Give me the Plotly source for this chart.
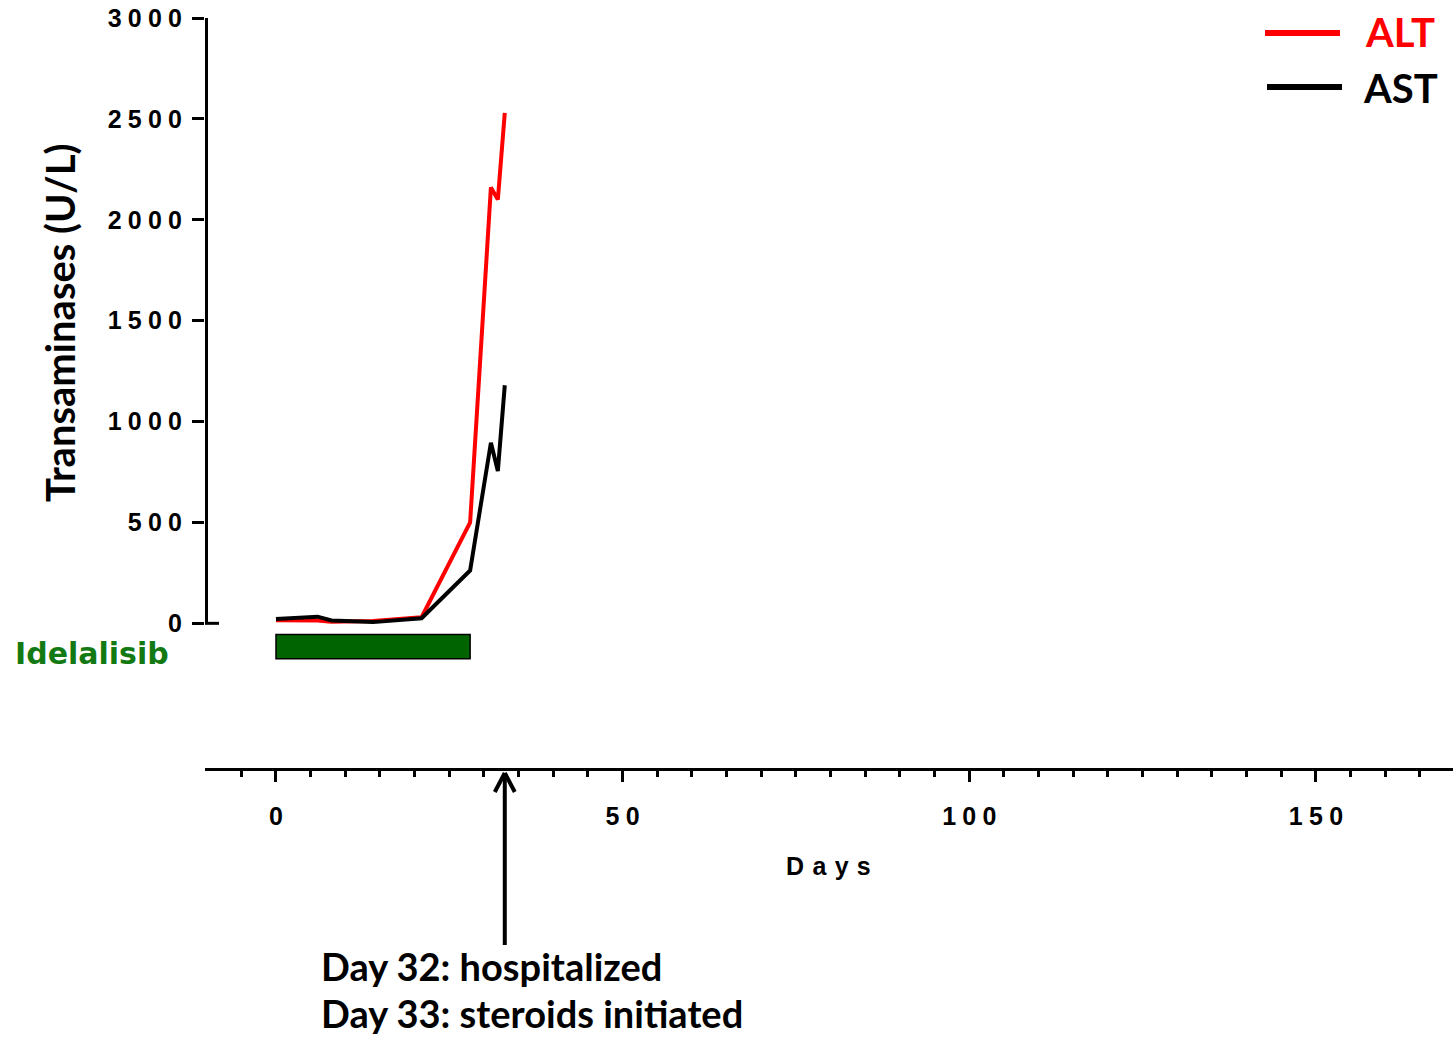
import plotly.graph_objects as go

# Liver enzyme time course (days since idelalisib start)
days = [0, 6, 8, 14, 21, 28, 31, 32, 33]
alt = [15, 14, 8, 12, 30, 500, 2160, 2100, 2530]
ast = [22, 33, 14, 6, 25, 262, 895, 755, 1180]

# Idelalisib treatment period
treat_start, treat_stop = 0, 28
treat_band = [-55, -175]      # vertical extent of the treatment bar (U/L units)
arrow_day = 33                # hospitalisation / steroid start marker

y_ticks = [0, 500, 1000, 1500, 2000, 2500, 3000]
x_ticks = [0, 50, 100, 150]
x_minor = [d for d in range(-5, 170, 5) if d % 50]

SP = "\u2005"


def spaced(s):
    return SP.join(list(str(s)))


y_ticktext = [spaced(v) for v in y_ticks]
x_ticktext = [spaced(v) for v in x_ticks]

# plot area geometry in page pixels
L, R, T, B = 205, 1453, 18, 768
W, H = R - L, B - T


def px(x):
    return (x - L) / W


def py(y):
    return (B - y) / H


day_per_px = 1 / 6.933

fig = go.Figure()
fig.add_trace(go.Scatter(x=days, y=alt, mode="lines", name="ALT",
                         line=dict(color="#ff0000", width=4), showlegend=False))
fig.add_trace(go.Scatter(x=days, y=ast, mode="lines", name="AST",
                         line=dict(color="#000000", width=4), showlegend=False))

shapes = []
# y-axis line (only spans 0..3000)
shapes.append(dict(type="line", xref="paper", yref="y", x0=px(206.5), x1=px(206.5),
                   y0=0, y1=3000, line=dict(color="black", width=3)))
# short stub to the right at zero
shapes.append(dict(type="line", xref="paper", yref="y", x0=px(205), x1=px(219),
                   y0=0, y1=0, line=dict(color="black", width=3)))
# treatment bar
shapes.append(dict(type="rect", xref="x", yref="y", x0=treat_start, x1=treat_stop,
                   y0=treat_band[0], y1=treat_band[1], fillcolor="#006400",
                   line=dict(color="black", width=1.5)))
# arrow: shaft and head
tip = py(773)
shapes.append(dict(type="line", xref="x", yref="paper", x0=arrow_day, x1=arrow_day,
                   y0=py(945), y1=tip, line=dict(color="black", width=4)))
for side in (-1, 1):
    shapes.append(dict(type="line", xref="x", yref="paper",
                       x0=arrow_day, y0=tip,
                       x1=arrow_day + side * 10 * day_per_px, y1=py(792),
                       line=dict(color="black", width=4)))
# legend swatches
shapes.append(dict(type="line", xref="paper", yref="paper", x0=px(1265), x1=px(1340),
                   y0=py(33), y1=py(33), line=dict(color="#ff0000", width=6)))
shapes.append(dict(type="line", xref="paper", yref="paper", x0=px(1267), x1=px(1342),
                   y0=py(87), y1=py(87), line=dict(color="#000000", width=6)))

calibri_like = "Lato, 'Open Sans', sans-serif"
arial_like = "'Liberation Sans', Arial, sans-serif"
rounded = "'DejaVu Sans', sans-serif"

annotations = [
    dict(text="Transaminases (U/L)", xref="paper", yref="paper", x=px(60), y=py(323),
         textangle=-90, showarrow=False, xanchor="center", yanchor="middle",
         font=dict(family=calibri_like, size=40, color="black", weight="bold")),
    dict(text="Idelalisib", xref="paper", yref="paper", x=px(171), y=py(653),
         showarrow=False, xanchor="right", yanchor="middle",
         font=dict(family=rounded, size=30, color="#137a13", weight="bold")),
    dict(text=spaced("Days").replace(SP, "\u2004"), xref="paper", yref="paper",
         x=px(828), y=py(866), showarrow=False, xanchor="center", yanchor="middle",
         font=dict(family=arial_like, size=25, color="black", weight="bold")),
    dict(text="ALT", xref="paper", yref="paper", x=px(1363), y=py(32),
         showarrow=False, xanchor="left", yanchor="middle",
         font=dict(family=calibri_like, size=40, color="#ff0000", weight="bold")),
    dict(text="AST", xref="paper", yref="paper", x=px(1361), y=py(88),
         showarrow=False, xanchor="left", yanchor="middle",
         font=dict(family=calibri_like, size=40, color="black", weight="bold")),
    dict(text="Day 32: hospitalized", xref="paper", yref="paper", x=px(319), y=py(966),
         showarrow=False, xanchor="left", yanchor="middle",
         font=dict(family=calibri_like, size=38, color="black", weight="bold")),
    dict(text="Day 33: steroids initiated", xref="paper", yref="paper", x=px(319), y=py(1013),
         showarrow=False, xanchor="left", yanchor="middle",
         font=dict(family=calibri_like, size=38, color="black", weight="bold")),
]

fig.update_layout(
    width=1453, height=1037,
    margin=dict(l=L, r=1453 - R, t=T, b=1037 - B),
    paper_bgcolor="white", plot_bgcolor="white",
    shapes=shapes, annotations=annotations,
    showlegend=False,
)

fig.update_xaxes(
    range=[-10.24, 169.77], showgrid=False, zeroline=False,
    showline=True, linecolor="black", linewidth=3,
    ticks="outside", ticklen=11, tickwidth=3, tickcolor="black",
    tickvals=x_ticks, ticktext=x_ticktext, ticklabelstandoff=13,
    tickfont=dict(family=arial_like, size=25, color="black", weight="bold"),
    minor=dict(tickvals=x_minor, ticks="outside", ticklen=6, tickwidth=3, tickcolor="black"),
)
fig.update_yaxes(
    range=[-717, 3000], showgrid=False, zeroline=False, showline=False,
    ticks="outside", ticklen=12, tickwidth=3, tickcolor="black",
    tickvals=y_ticks, ticktext=y_ticktext, ticklabelstandoff=5,
    tickfont=dict(family=arial_like, size=25, color="black", weight="bold"),
)

fig.write_html("out.html")
